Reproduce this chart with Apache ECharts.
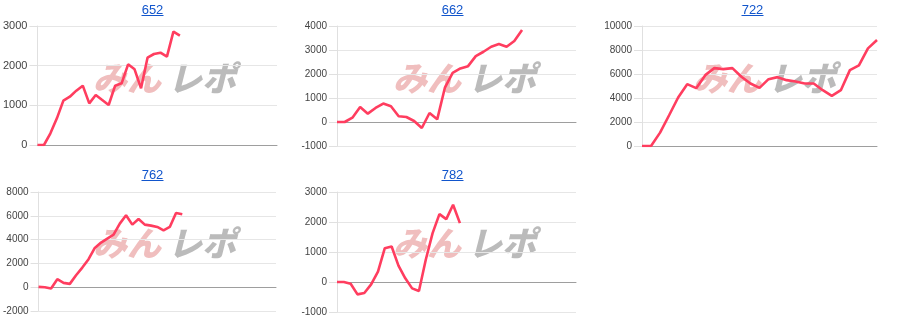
<!DOCTYPE html>
<html>
<head>
<meta charset="utf-8">
<script src="https://cdn.jsdelivr.net/npm/echarts@6/dist/echarts.min.js"></script>
<style>html,body{margin:0;padding:0;background:#fff}#c{width:900px;height:332px}</style>
</head>
<body>
<div id="c"></div>
<script>
// chart titles
const titles = ['652', '662', '722', '762', '782'];
// number of x slots per chart
const slotCounts = [38, 32, 27, 39, 36];
// series values
const values652 = [0, 0, 294, 672, 1118, 1218, 1370, 1496, 1050, 1260, 1134, 1008, 1496, 1555, 2034, 1908, 1429, 2202, 2294, 2328, 2227, 2857, 2756];
const values662 = [0, 0, 181, 627, 348, 585, 767, 655, 237, 209, 42, -251, 376, 111, 1436, 2049, 2230, 2327, 2746, 2927, 3136, 3247, 3136, 3373, 3833];
const values722 = [0, 0, 1114, 2563, 4039, 5153, 4819, 5905, 6490, 6407, 6490, 5766, 5209, 4847, 5571, 5738, 5487, 5376, 5209, 5209, 4652, 4178, 4652, 6323, 6713, 8134, 8830];
const values762 = [28, 0, -112, 671, 364, 280, 1007, 1650, 2350, 3301, 3748, 4084, 4420, 5343, 6042, 5259, 5734, 5259, 5175, 5063, 4783, 5063, 6238, 6126];
const values782 = [0, 0, -56, -412, -368, -78, 346, 1126, 1182, 546, 123, -212, -301, 740, 1630, 2263, 2096, 2575, 1962];
// y-axis ticks [min, max, interval]
const yTicks652 = [0, 3000, 1000];
const yTicks662 = [-1000, 4000, 1000];
const yTicks722 = [0, 10000, 2000];
const yTicks762 = [-2000, 8000, 2000];
const yTicks782 = [-1000, 3000, 1000];

const allValues = [values652, values662, values722, values762, values782];
const allTicks = [yTicks652, yTicks662, yTicks722, yTicks762, yTicks782];

// layout
const grids = [
  {left: 36, top: 26, width: 241, height: 119},
  {left: 337, top: 26, width: 239, height: 120},
  {left: 642, top: 26, width: 235, height: 120},
  {left: 37, top: 192, width: 239, height: 119},
  {left: 337, top: 192, width: 239, height: 120}
];
const cells = [[0, 0], [300, 0], [600, 0], [0, 165], [300, 165]];
const labelSizes = [11, 10, 10, 10, 10];

const option = {
  animation: false,
  grid: [],
  xAxis: [],
  yAxis: [],
  series: [],
  graphic: []
};

for (let i = 0; i < 5; i++) {
  const g = grids[i];
  const [cx, cy] = cells[i];
  option.grid.push({left: g.left, top: g.top, width: g.width, height: g.height, containLabel: false});
  const cats = [];
  for (let k = 1; k <= slotCounts[i]; k++) cats.push(String(k));
  option.xAxis.push({
    type: 'category', gridIndex: i, data: cats, boundaryGap: false,
    axisLine: {show: true, onZero: true, lineStyle: {color: '#9e9e9e', width: 1}},
    axisTick: {show: false}, axisLabel: {show: false}, splitLine: {show: false}
  });
  const t = allTicks[i];
  option.yAxis.push({
    type: 'value', gridIndex: i, min: t[0], max: t[1], interval: t[2],
    axisLine: {show: true, lineStyle: {color: '#e0e0e0'}},
    axisTick: {show: true, length: 8, lineStyle: {color: '#e0e0e0'}},
    axisLabel: {color: '#444', fontSize: labelSizes[i], fontFamily: 'Liberation Sans, Arial', margin: 10,
      formatter: function (v) { return String(v); }},
    splitLine: {show: true, lineStyle: {color: '#e6e6e6'}}
  });
  option.series.push({
    type: 'line', xAxisIndex: i, yAxisIndex: i, data: allValues[i],
    symbol: 'none', smooth: false, z: 5,
    lineStyle: {color: '#ff3d5f', width: 2.6}
  });
  const tx = cx + 152.5;
  const ty = cy + 10;
  option.graphic.push({
    type: 'text', z: 10,
    style: {x: tx, y: ty, text: titles[i], fill: '#1155cc', font: '13px "Liberation Sans", Arial', textAlign: 'center', textVerticalAlign: 'middle'}
  });
  option.graphic.push({
    type: 'rect', z: 10,
    shape: {x: tx - 11, y: ty + 5, width: 22, height: 1},
    style: {fill: '#1155cc'}
  });
  // watermark
  option.graphic.push({
    type: 'text', z: 0,
    style: {x: cx + 93, y: cy + 78, text: 'みん', fill: 'rgba(222,110,110,0.45)', font: 'italic 900 34px "Noto Sans CJK JP"', textVerticalAlign: 'middle'}
  });
  option.graphic.push({
    type: 'text', z: 0,
    style: {x: cx + 168, y: cy + 78, text: 'レポ', fill: 'rgba(150,150,150,0.65)', font: 'italic 900 34px "Noto Sans CJK JP"', textVerticalAlign: 'middle'}
  });
}

const chart = echarts.init(document.getElementById('c'), null, {renderer: 'canvas'});
chart.setOption(option);
</script>
</body>
</html>
